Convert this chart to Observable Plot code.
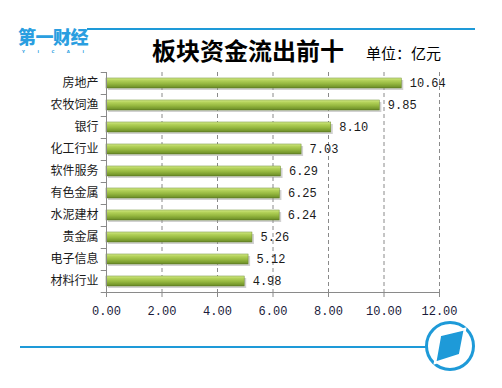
<!DOCTYPE html>
<html>
<head>
<meta charset="utf-8">
<script src="https://cdn.jsdelivr.net/npm/d3@7"></script>
<script src="https://cdn.jsdelivr.net/npm/@observablehq/plot@0.6"></script>
<style>
  html, body { margin: 0; padding: 0; background: #fff; }
  #wrap { position: relative; width: 502px; height: 388px; overflow: hidden; }
  #chart { position: absolute; left: 0; top: 0; }
  .title { position: absolute; left: 0; width: 496px; top: 35px; text-align: center;
           font-family: "Noto Sans CJK SC"; font-weight: bold; font-size: 24px; line-height: 30px; color: #000; }
  .unit { position: absolute; left: 366px; top: 43px; font-family: "Noto Sans CJK SC";
          font-size: 15px; line-height: 20px; color: #000; }
  .logo { position: absolute; left: 18px; top: 27px; font-family: "Noto Sans CJK SC"; font-weight: 900;
          font-size: 18px; line-height: 18px; height: 18px; color: #2a9ee0; letter-spacing: -0.5px; }
  .logo2 { position: absolute; left: 22px; top: 50px; font-family: "DejaVu Sans"; font-weight: bold;
           font-size: 4px; line-height: 4px; color: #2a9ee0; letter-spacing: 12.5px; }
  #deco { position: absolute; left: 0; top: 0; }
</style>
</head>
<body>
<div id="wrap">
  <svg id="deco" width="502" height="388">
    <line x1="87" y1="29" x2="475" y2="29" stroke="#1e9ad8" stroke-width="2"/>
    <line x1="20" y1="347" x2="427" y2="347" stroke="#1e9ad8" stroke-width="2"/>
    <circle cx="450" cy="346" r="23.5" fill="#fff" stroke="#1e9ad8" stroke-width="3"/>
    <polygon points="440,335 465,329 460,355 435,363" fill="#1e9ad8" stroke="#fff" stroke-width="2.5"/>
  </svg>
  <div class="logo">第一财经</div>
  <div class="logo2">YICAI</div>
  <div class="title">板块资金流出前十</div>
  <div class="unit">单位：亿元</div>
  <div id="chart"></div>
</div>
<script>
const categories = ["房地产", "农牧饲渔", "银行", "化工行业", "软件服务", "有色金属", "水泥建材", "贵金属", "电子信息", "材料行业"];
const values = [10.64, 9.85, 8.10, 7.03, 6.29, 6.25, 6.24, 5.26, 5.12, 4.98];
const xTicks = [0, 2, 4, 6, 8, 10, 12];

const data = categories.map((c, i) => ({cat: c, value: values[i]}));

const chart = Plot.plot({
  width: 502,
  height: 388,
  marginLeft: 106,
  marginRight: 63,
  marginTop: 72,
  marginBottom: 96,
  style: {fontFamily: "Noto Sans CJK SC", background: "transparent", overflow: "visible"},
  x: {domain: [0, 12], label: null},
  y: {domain: categories, padding: 0, label: null},
  marks: [
    Plot.ruleX(xTicks.slice(1), {stroke: "#8a8a8a", strokeDasharray: "4,3", strokeWidth: 1}),
    Plot.barX(data, {y: "cat", x: "value", insetTop: 6, insetBottom: 6, fill: "#9a9a9a", fillOpacity: 0.45, dx: 2, dy: 2}),
    Plot.barX(data, {y: "cat", x: "value", insetTop: 6, insetBottom: 6, fill: "url(#barGrad)", stroke: "#6a8a28", strokeWidth: 0.5}),
    Plot.text(data, {y: "cat", x: "value", text: d => d.value.toFixed(2), dx: 8, textAnchor: "start",
      fontFamily: "Liberation Mono", fontSize: 12, fill: "#1a1a1a"}),
    Plot.ruleX([0], {stroke: "#8a8a8a"}),
    Plot.ruleY(categories, {y: d => d, x1: 0, x2: -0.19, dy: -11, stroke: "#8a8a8a"}),
    Plot.ruleY([categories[categories.length - 1]], {y: d => d, x1: -0.19, x2: 12, dy: 11, stroke: "#8a8a8a"}),
    Plot.axisY({tickSize: 0, tickPadding: 8, fontSize: 12, fill: "#1a1a1a", label: null}),
    Plot.axisX({ticks: xTicks, tickFormat: d => d.toFixed(2), tickSize: 5, tickPadding: 9, label: null,
      stroke: "#8a8a8a", fill: "#1a1a3a", fontSize: 12, fontFamily: "Liberation Mono"})
  ]
});

d3.select(chart).insert("defs", ":first-child").html(`
  <linearGradient id="barGrad" x1="0" y1="0" x2="0" y2="1">
    <stop offset="0%" stop-color="#d8ec92"/>
    <stop offset="20%" stop-color="#b6d45c"/>
    <stop offset="55%" stop-color="#97b941"/>
    <stop offset="85%" stop-color="#789a2e"/>
    <stop offset="100%" stop-color="#5e7a22"/>
  </linearGradient>`);

document.getElementById("chart").appendChild(chart);
</script>
</body>
</html>
